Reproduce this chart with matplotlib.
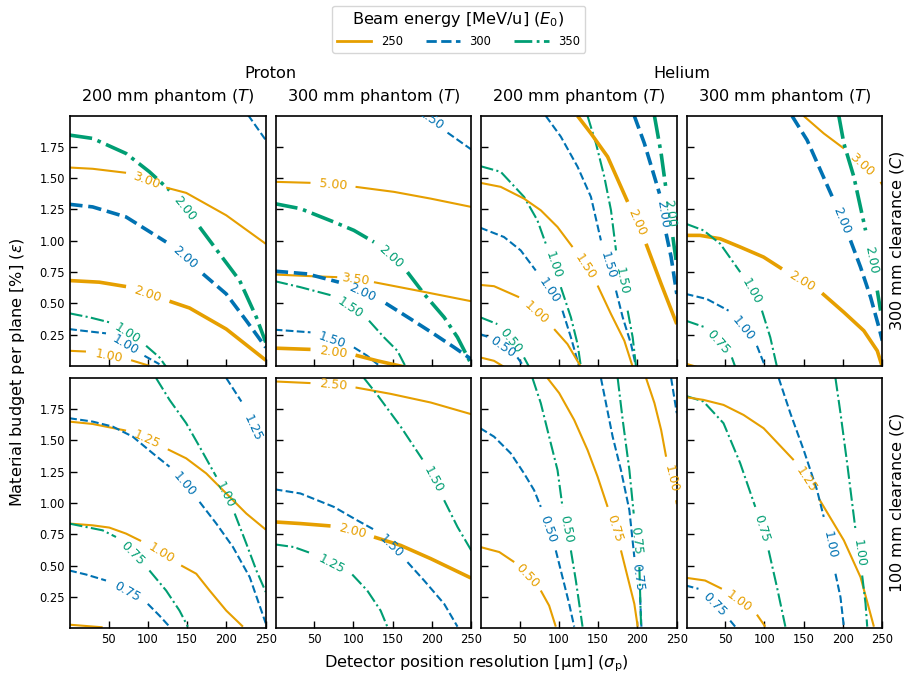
import numpy as np
import matplotlib
matplotlib.use('Agg')
import matplotlib.pyplot as plt
from matplotlib.lines import Line2D

nan = np.nan

# beam energies [MeV/u] and their line styles
energies = [250, 300, 350]
energy_colors = {250: '#E69F00', 300: '#0072B2', 350: '#009E73'}
energy_styles = {250: '-', 300: '--', 350: '-.'}
highlight_level = 2.00

particles = ['Proton', 'Helium']
phantoms = [200, 300, 200, 300]   # phantom thickness T per column [mm]
clearances = [300, 100]           # clearance C per row [mm]

x_ticks = [50, 100, 150, 200, 250]
y_ticks = [0.25, 0.50, 0.75, 1.00, 1.25, 1.50, 1.75]

# Contour lines: (energy, level, sigma_p [um], epsilon [%]); nan marks the label gap
proton_T200_C300 = [
    (350, 2.00, [0, 29.8, 72.3, 102.0, 127.6, nan, 165.8, 191.3, 216.8, 238.1, 250],
                [1.843, 1.816, 1.696, 1.550, 1.403, nan, 1.110, 0.896, 0.683, 0.390, 0.190]),
    (250, 3.00, [0, 29.8, 72.3, nan, 123.3, 148.8, 199.8, 250],
                [1.584, 1.574, 1.542, nan, 1.424, 1.382, 1.203, 0.976]),
    (300, 2.00, [0, 29.8, 72.3, 123.3, nan, 170.1, 199.8, 225.3, 250],
                [1.291, 1.270, 1.190, 0.990, nan, 0.736, 0.576, 0.363, 0.150]),
    (250, 2.00, [0, 38.3, 72.3, nan, 127.6, 153.1, 199.8, 250],
                [0.683, 0.670, 0.635, nan, 0.518, 0.464, 0.296, 0.048]),
    (350, 1.00, [0, 25.5, 51.0, nan, 97.8, 114.8, 123.3],
                [0.422, 0.390, 0.350, nan, 0.163, 0.070, -0.005]),
    (300, 1.00, [0, 17.0, 46.8, nan, 95.7, 114.8],
                [0.296, 0.283, 0.262, nan, 0.083, 0.016]),
    (250, 1.00, [0, 21.3, nan, 78.7, 102.0],
                [0.123, 0.117, nan, 0.048, 0.003]),
    (300, 3.00, [227.5, 250], [2.003, 1.803]),
]
proton_T300_C300 = [
    (250, 5.00, [0, 45.5, nan, 102.8, 151.7, 198.5, 250],
                [1.470, 1.462, nan, 1.430, 1.390, 1.336, 1.270]),
    (350, 2.00, [0, 32.7, 75.2, 100.7, 126.2, nan, 168.8, 190.0, 215.5, 232.5, 250],
                [1.296, 1.256, 1.150, 1.083, 0.990, nan, 0.750, 0.576, 0.390, 0.230, 0.016]),
    (250, 3.50, [0, 45.5, 79.5, nan, 126.2, 181.5, 250],
                [0.731, 0.718, 0.710, nan, 0.670, 0.603, 0.518]),
    (300, 2.00, [0, 41.2, 81.6, nan, 141.1, 173.0, 202.8, 228.3, 250],
                [0.758, 0.736, 0.670, nan, 0.502, 0.376, 0.256, 0.150, 0.056]),
    (350, 1.50, [0, 32.7, 73.1, nan, 119.9, 139.0, 156.0, 166.6],
                [0.678, 0.630, 0.563, nan, 0.363, 0.230, 0.123, -0.005]),
    (300, 1.50, [0, 45.5, nan, 100.7, 117.7, 134.7],
                [0.291, 0.270, nan, 0.150, 0.083, -0.005]),
    (250, 2.00, [0, 45.5, nan, 102.8, 130.5, 164.5],
                [0.144, 0.134, nan, 0.088, 0.043, -0.005]),
    (300, 2.50, [219.8, 250], [1.862, 1.728]),
]
helium_T200_C300 = [
    (300, 1.50, [83.4, 102.5, 123.8, 140.8, 153.5, nan, 172.7, 181.2, 191.8, 198.2],
                [1.995, 1.830, 1.590, 1.350, 1.003, nan, 0.603, 0.390, 0.176, -0.005]),
    (350, 1.50, [136.5, 147.2, 157.8, 166.3, 172.7, nan, 187.5, 193.9, 198.2],
                [1.995, 1.776, 1.510, 1.243, 0.923, nan, 0.443, 0.230, -0.005]),
    (250, 2.00, [123.8, 140.8, 162.0, 187.5, nan, 210.9, 230.1, 250],
                [1.995, 1.856, 1.670, 1.310, nan, 0.976, 0.656, 0.336]),
    (300, 2.00, [196.0, 208.8, 221.6, 228.0, nan, 236.5, 242.8, 250],
                [1.995, 1.776, 1.510, 1.376, nan, 1.056, 0.870, 0.576]),
    (350, 2.00, [221.6, 230.1, 236.5, nan, 245.0, 250],
                [1.995, 1.696, 1.403, nan, 1.030, 0.803]),
    (350, 1.00, [0, 26.0, 55.7, 72.7, 83.4, nan, 102.5, 115.3, 123.8, 128.0],
                [1.595, 1.550, 1.350, 1.163, 0.976, nan, 0.630, 0.390, 0.176, -0.005]),
    (250, 1.50, [0, 26.0, 55.7, 77.0, 98.3, 117.4, nan, 149.3, 166.3, 183.3, 193.9],
                [1.462, 1.430, 1.336, 1.243, 1.110, 0.950, nan, 0.643, 0.416, 0.203, -0.005]),
    (300, 1.00, [0, 30.2, 51.5, 70.6, nan, 104.6, 115.3, 125.9],
                [1.104, 1.030, 0.923, 0.763, nan, 0.443, 0.230, -0.005]),
    (250, 1.00, [0, 17.5, 49.4, nan, 94.0, 111.0, 128.0],
                [0.648, 0.638, 0.550, nan, 0.296, 0.176, -0.005]),
    (350, 0.50, [0, 21.7, nan, 55.7, 62.1],
                [0.390, 0.336, nan, 0.070, -0.005]),
    (300, 0.50, [0, 9.0, nan, 47.2, 55.7],
                [0.256, 0.235, nan, 0.070, -0.005]),
    (250, 0.50, [0, 17.5, 30.2], [0.070, 0.043, -0.005]),
]
helium_T300_C300 = [
    (250, 3.00, [150.0, 175.5, 201.1, nan, 247.8, 250],
                [1.995, 1.856, 1.736, nan, 1.470, 1.443]),
    (300, 2.00, [135.2, 154.3, 171.3, 188.3, nan, 209.5, 222.3, 235.1, 245.7, 250],
                [1.995, 1.803, 1.563, 1.323, nan, 1.003, 0.790, 0.550, 0.310, 0.203]),
    (350, 2.00, [194.7, 201.1, 213.8, 228.7, nan, 243.6, 247.8],
                [1.995, 1.776, 1.510, 1.083, nan, 0.603, 0.443]),
    (250, 2.00, [0, 18.2, 43.8, 69.3, 99.0, 122.4, nan, 173.4, 201.1, 226.5, 243.6, 250],
                [1.043, 1.043, 1.016, 0.950, 0.870, 0.776, nan, 0.582, 0.430, 0.283, 0.123, -0.005]),
    (350, 1.00, [0, 22.5, 43.8, 69.3, nan, 96.9, 107.5, 116.0],
                [1.136, 1.083, 0.976, 0.750, nan, 0.443, 0.230, -0.005]),
    (300, 1.00, [0, 26.7, 54.4, nan, 90.5, 101.1],
                [0.576, 0.536, 0.443, nan, 0.163, -0.005]),
    (350, 0.75, [0, 24.6, nan, 58.6, 62.9],
                [0.363, 0.310, nan, 0.070, -0.005]),
    (250, 1.50, [0, 14.0], [0.020, -0.005]),
]
proton_T200_C100 = [
    (350, 1.00, [110.5, 127.6, 148.8, 165.8, 187.1, nan, 210.5, 225.3, 238.1, 250],
                [1.995, 1.821, 1.635, 1.448, 1.208, nan, 0.915, 0.675, 0.461, 0.290]),
    (300, 1.25, [199.8, 219.0], [1.995, 1.808]),
    (250, 1.25, [0, 29.8, 72.3, nan, 125.4, 148.8, 174.3, 199.8, 225.3, 250],
                [1.648, 1.629, 1.576, nan, 1.427, 1.355, 1.235, 1.075, 0.915, 0.787]),
    (300, 1.00, [0, 29.8, 55.3, 80.8, 106.3, 127.6, nan, 165.8, 187.1, 208.3, 229.6, 250],
                [1.675, 1.648, 1.608, 1.528, 1.395, 1.288, nan, 1.008, 0.835, 0.648, 0.408, 0.040]),
    (250, 1.00, [0, 29.8, 51.0, 72.3, 91.4, nan, 142.4, 161.6, 178.6, 199.8, 221.0],
                [0.835, 0.821, 0.803, 0.755, 0.696, nan, 0.501, 0.435, 0.301, 0.141, 0.013]),
    (350, 0.75, [0, 42.5, 59.5, nan, 102.0, 123.3, 140.3, 150.9],
                [0.835, 0.781, 0.728, nan, 0.461, 0.301, 0.141, 0.013]),
    (300, 0.75, [0, 21.3, 46.8, nan, 99.9, 114.8, 127.6],
                [0.461, 0.429, 0.381, nan, 0.195, 0.101, 0.013]),
    (250, 0.75, [0, 42.5], [0.029, 0.008]),
]
proton_T300_C100 = [
    (250, 2.50, [0, 45.5, nan, 102.8, 147.5, 198.5, 250],
                [1.968, 1.955, nan, 1.920, 1.869, 1.800, 1.707]),
    (350, 1.50, [113.5, 130.5, 160.2, 187.9, nan, 215.5, 232.5, 250],
                [1.995, 1.861, 1.608, 1.346, nan, 1.021, 0.808, 0.621]),
    (300, 1.50, [0, 32.7, 75.2, 104.8, 126.2, nan, 168.8, 190.0, 215.5, 232.5],
                [1.108, 1.075, 0.968, 0.861, 0.787, nan, 0.528, 0.381, 0.195, 0.013]),
    (250, 2.00, [0, 32.7, 71.0, nan, 126.2, 160.2, 198.5, 250],
                [0.848, 0.835, 0.816, nan, 0.728, 0.661, 0.555, 0.400]),
    (350, 1.25, [0, 24.2, 45.5, nan, 98.6, 117.7, 134.7, 143.2],
                [0.669, 0.648, 0.600, nan, 0.429, 0.301, 0.141, 0.013]),
]
helium_T200_C100 = [
    (350, 0.50, [66.4, 77.0, 87.6, 98.3, 104.6, nan, 115.3, 121.6, 125.9, 130.1],
                [1.995, 1.795, 1.528, 1.261, 0.968, nan, 0.621, 0.381, 0.195, 0.013]),
    (250, 0.75, [85.5, 100.4, 119.5, 136.5, 149.3, 162.0, nan, 179.0, 187.5, 196.0, 200.3],
                [1.995, 1.875, 1.661, 1.421, 1.208, 0.968, nan, 0.621, 0.408, 0.195, 0.013]),
    (300, 0.50, [0, 17.5, 38.8, 55.7, 68.5, 77.0, nan, 96.1, 104.6, 113.1, 119.5],
                [1.595, 1.528, 1.395, 1.235, 1.101, 0.968, nan, 0.621, 0.408, 0.195, 0.013]),
    (300, 0.75, [153.5, 159.9, 168.4, 179.0, 189.7, 196.0, nan, 203.3, 205.0],
                [1.995, 1.795, 1.528, 1.261, 0.941, 0.568, nan, 0.248, 0.013]),
    (350, 0.75, [174.8, 181.2, 189.7, 195.2, nan, 202.4, 204.6],
                [1.995, 1.661, 1.261, 0.915, nan, 0.488, 0.013]),
    (250, 1.00, [210.9, 221.6, 230.1, 236.4, nan, 249.2, 250],
                [1.995, 1.795, 1.581, 1.368, nan, 1.021, 0.990]),
    (300, 1.00, [242.8, 250], [1.995, 1.715]),
    (250, 0.50, [0, 24.2, 43.2, nan, 77.0, 87.6, 96.1],
                [0.648, 0.608, 0.528, nan, 0.301, 0.181, 0.013]),
]
helium_T300_C100 = [
    (350, 0.75, [0, 22.5, 48.0, 69.3, 88.4, nan, 105.4, 116.0, 126.7],
                [1.853, 1.808, 1.635, 1.315, 0.968, nan, 0.621, 0.328, 0.013]),
    (250, 1.25, [0, 22.5, 48.0, 73.5, 99.0, 137.3, nan, 169.2, 201.1, 222.3, 239.3],
                [1.843, 1.821, 1.781, 1.701, 1.595, 1.341, nan, 1.035, 0.701, 0.408, 0.013]),
    (300, 1.00, [118.2, 133.0, 150.0, 167.0, 175.5, nan, 190.4, 196.8, 201.1],
                [1.995, 1.715, 1.421, 1.101, 0.888, nan, 0.435, 0.248, 0.013]),
    (350, 1.00, [190.4, 196.8, 205.3, 216.0, nan, 224.4, 228.7, 230.8],
                [1.995, 1.715, 1.315, 0.781, nan, 0.421, 0.195, 0.013]),
    (250, 1.00, [0, 24.6, 45.9, nan, 90.5, 101.1],
                [0.403, 0.381, 0.315, nan, 0.109, 0.013]),
    (300, 0.75, [0, 16.1, nan, 56.5, 62.9],
                [0.341, 0.315, nan, 0.061, 0.013]),
]

# labels sitting on the panel border: (energy, level, x, y, angle)
edge_labels = {
    (0, 1): [(300, 2.50, 198.5, 1.968, -35)],
    (1, 0): [(300, 1.25, 233.8, 1.595, -65)],
}

panels = [[proton_T200_C300, proton_T300_C300, helium_T200_C300, helium_T300_C300],
          [proton_T200_C100, proton_T300_C100, helium_T200_C100, helium_T300_C100]]

LABEL_SIZE = 9
HEAD_SIZE = 11.6


def draw_contours(ax, contours):
    for energy, level, xs, ys in contours:
        color = energy_colors[energy]
        lw = 2.6 if level == highlight_level else 1.5
        ax.plot(xs, ys, color=color, linestyle=energy_styles[energy], lw=lw,
                solid_capstyle='butt', dash_capstyle='butt')
        xs = np.asarray(xs, float)
        ys = np.asarray(ys, float)
        for i in np.where(np.isnan(xs))[0]:
            p0 = ax.transData.transform((xs[i - 1], ys[i - 1]))
            p1 = ax.transData.transform((xs[i + 1], ys[i + 1]))
            ang = np.degrees(np.arctan2(p1[1] - p0[1], p1[0] - p0[0]))
            if ang > 90:
                ang -= 180
            elif ang < -90:
                ang += 180
            mx, my = (xs[i - 1] + xs[i + 1]) / 2, (ys[i - 1] + ys[i + 1]) / 2
            ax.text(mx, my, f'{level:.2f}', color=color, fontsize=LABEL_SIZE,
                    rotation=ang, rotation_mode='anchor', ha='center', va='center')


fig, axes = plt.subplots(2, 4, figsize=(9.08, 6.83), dpi=100, sharex=True, sharey=True)
fig.subplots_adjust(left=0.0771, right=0.9717, bottom=0.081, top=0.8302,
                    wspace=0.05, hspace=0.05)

for r in range(2):
    for c in range(4):
        ax = axes[r, c]
        ax.set_xlim(1, 250)
        ax.set_ylim(0.005, 1.995)
        ax.set_xticks(x_ticks)
        ax.set_yticks(y_ticks)
        ax.tick_params(direction='in', length=5, width=1, labelsize=8.3)
        for sp in ax.spines.values():
            sp.set_linewidth(1.2)
        draw_contours(ax, panels[r][c])
        for energy, level, x, y, ang in edge_labels.get((r, c), []):
            ax.text(x, y, f'{level:.2f}', color=energy_colors[energy], fontsize=LABEL_SIZE,
                    rotation=ang, rotation_mode='anchor', ha='center', va='center',
                    clip_on=True)

# column and row headers
for c in range(4):
    pos = axes[0, c].get_position()
    fig.text((pos.x0 + pos.x1) / 2, 1 - 97 / 683, f'{phantoms[c]} mm phantom ($T$)',
             ha='center', va='center', fontsize=HEAD_SIZE)
for k, name in enumerate(particles):
    p0 = axes[0, 2 * k].get_position()
    p1 = axes[0, 2 * k + 1].get_position()
    fig.text((p0.x0 + p1.x1) / 2, 1 - 73 / 683, name, ha='center', va='center',
             fontsize=HEAD_SIZE)
for r in range(2):
    pos = axes[r, 3].get_position()
    fig.text(897 / 908, (pos.y0 + pos.y1) / 2, f'{clearances[r]} mm clearance ($C$)',
             ha='center', va='center', rotation=90, fontsize=HEAD_SIZE)

fig.text(0.5 * (70 + 882) / 908, 1 - 664 / 683,
         r'Detector position resolution [$\mathrm{\mu}$m] ($\sigma_\mathrm{p}$)',
         ha='center', va='center', fontsize=HEAD_SIZE)
fig.text(18 / 908, 1 - 372 / 683, r'Material budget per plane [%] ($\varepsilon$)',
         ha='center', va='center', rotation=90, fontsize=HEAD_SIZE)

handles = [Line2D([], [], color=energy_colors[e], linestyle=energy_styles[e], lw=2)
           for e in energies]
fig.legend(handles, [str(e) for e in energies], title='Beam energy [MeV/u] ($E_0$)',
           loc='upper center', bbox_to_anchor=(0.505, 1.0), ncol=3, fontsize=8.3,
           title_fontsize=HEAD_SIZE, handlelength=3, columnspacing=2.0)

fig.savefig('out.png', dpi=100)
